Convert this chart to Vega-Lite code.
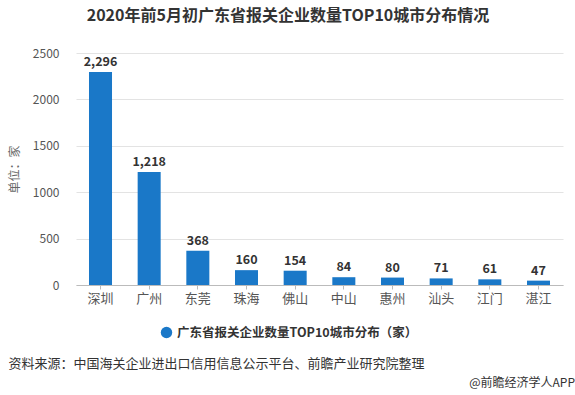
{
  "$schema": "https://vega.github.io/schema/vega-lite/v6.json",
  "background": "white",
  "padding": {"left": 8, "top": 8, "right": 0, "bottom": 0},
  "config": {
    "font": "Noto Sans CJK SC",
    "view": {"stroke": null}
  },
  "title": {
    "text": "@前瞻经济学人APP",
    "orient": "bottom",
    "anchor": "end",
    "fontSize": 12,
    "fontWeight": "normal",
    "color": "#333333",
    "dx": 12,
    "offset": 8
  },
  "vconcat": [
    {
      "width": 498,
      "height": 232,
      "title": {
        "text": "2020年前5月初广东省报关企业数量TOP10城市分布情况",
        "fontSize": 16,
        "fontWeight": "bold",
        "color": "#333333",
        "anchor": "middle",
        "dx": -26,
        "offset": 23
      },
      "data": {
        "values": [
          {"city": "深圳", "value": 2296, "series": "广东省报关企业数量TOP10城市分布（家）"},
          {"city": "广州", "value": 1218, "series": "广东省报关企业数量TOP10城市分布（家）"},
          {"city": "东莞", "value": 368, "series": "广东省报关企业数量TOP10城市分布（家）"},
          {"city": "珠海", "value": 160, "series": "广东省报关企业数量TOP10城市分布（家）"},
          {"city": "佛山", "value": 154, "series": "广东省报关企业数量TOP10城市分布（家）"},
          {"city": "中山", "value": 84, "series": "广东省报关企业数量TOP10城市分布（家）"},
          {"city": "惠州", "value": 80, "series": "广东省报关企业数量TOP10城市分布（家）"},
          {"city": "汕头", "value": 71, "series": "广东省报关企业数量TOP10城市分布（家）"},
          {"city": "江门", "value": 61, "series": "广东省报关企业数量TOP10城市分布（家）"},
          {"city": "湛江", "value": 47, "series": "广东省报关企业数量TOP10城市分布（家）"}
        ]
      },
      "encoding": {
        "x": {
          "field": "city",
          "type": "nominal",
          "sort": null,
          "scale": {"range": [11, 498], "paddingInner": 0.527, "paddingOuter": 0.267},
          "axis": {
            "title": "资料来源：中国海关企业进出口信用信息公示平台、前瞻产业研究院整理",
            "titleAnchor": "start",
            "titleAlign": "left",
            "titleX": -57,
            "titleY": 78,
            "titleBaseline": "middle",
            "titleFontSize": 13,
            "titleFontWeight": "normal",
            "titleColor": "#333333",
            "labelAngle": 0,
            "labelFontSize": 13,
            "labelColor": "#555555",
            "labelPadding": 3,
            "domainColor": "#bbbbbb",
            "tickColor": "#bbbbbb",
            "tickSize": 4
          }
        },
        "y": {
          "field": "value",
          "type": "quantitative",
          "scale": {"domain": [0, 2500]},
          "axis": {
            "values": [0, 500, 1000, 1500, 2000, 2500],
            "format": "d",
            "title": "单位：家",
            "titleFontSize": 12,
            "titleFontWeight": "normal",
            "titleColor": "#666666",
            "titlePadding": 11,
            "labelFontSize": 12,
            "labelColor": "#555555",
            "labelPadding": 6,
            "ticks": false,
            "domain": false,
            "gridColor": "#e3e3e3"
          }
        }
      },
      "layer": [
        {
          "mark": {"type": "bar"},
          "encoding": {
            "color": {
              "field": "series",
              "type": "nominal",
              "scale": {"range": ["#1a78c8"]},
              "legend": {
                "title": null,
                "orient": "none",
                "legendX": 95,
                "legendY": 273,
                "symbolType": "circle",
                "symbolSize": 130,
                "labelFontSize": 12.5,
                "labelFontWeight": "bold",
                "labelColor": "#333333",
                "labelLimit": 0
              }
            }
          }
        },
        {
          "mark": {"type": "text", "dy": -10, "fontWeight": "bold", "fontSize": 12.5, "color": "#333333"},
          "encoding": {
            "text": {"field": "value", "type": "quantitative", "format": ","}
          }
        }
      ]
    }
  ]
}
